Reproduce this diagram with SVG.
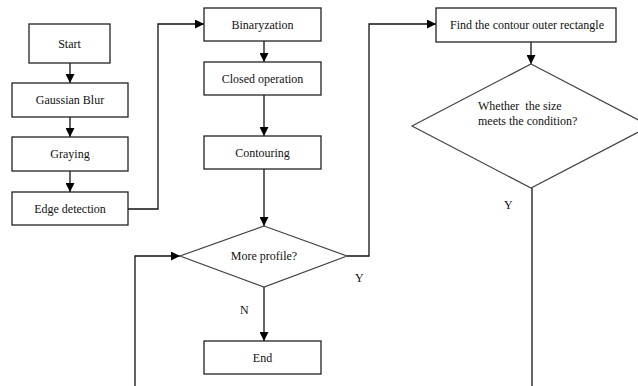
<svg xmlns="http://www.w3.org/2000/svg" width="638" height="386" viewBox="0 0 638 386" font-family="'Liberation Serif', 'Times New Roman', serif">
<defs>
<marker id="ah" viewBox="0 0 10 10" refX="10" refY="5" markerWidth="9" markerHeight="9" markerUnits="userSpaceOnUse" orient="auto">
<path d="M0,0 L10,5 L0,10 z" fill="#000"/>
</marker>
<style>
.box{fill:#fff;stroke:#222;stroke-width:1.3}
.dia{fill:#fff;stroke:#444;stroke-width:1.2}
text{font-family:'Liberation Serif','Times New Roman',serif;font-size:12px;fill:#111}
.t{text-anchor:middle}
.c{fill:none;stroke:#111;stroke-width:1.3}
</style>
</defs>
<rect width="638" height="386" fill="#fff"/>
<g id="connectors">
<line class="c" x1="70" y1="63" x2="70" y2="83" marker-end="url(#ah)"/>
<line class="c" x1="70" y1="117" x2="70" y2="137" marker-end="url(#ah)"/>
<line class="c" x1="70" y1="171" x2="70" y2="192" marker-end="url(#ah)"/>
<polyline class="c" points="128,209 158,209 158,24 204,24" marker-end="url(#ah)"/>
<line class="c" x1="264" y1="41" x2="264" y2="62" marker-end="url(#ah)"/>
<line class="c" x1="264" y1="95" x2="264" y2="136" marker-end="url(#ah)"/>
<line class="c" x1="264" y1="169" x2="264" y2="226" marker-end="url(#ah)"/>
<polyline class="c" points="347,256 369,256 369,24 436,24" marker-end="url(#ah)"/>
<line class="c" x1="264" y1="287" x2="264" y2="341" marker-end="url(#ah)"/>
<polyline class="c" points="135,386 135,256 180,256" marker-end="url(#ah)"/>
<line class="c" x1="531" y1="42" x2="531" y2="64" marker-end="url(#ah)"/>
<line class="c" x1="532" y1="188" x2="532" y2="386"/>
<text x="355" y="282">Y</text>
<text x="240" y="314">N</text>
<text x="504" y="209">Y</text>
</g>
<g id="start"><rect class="box" x="29" y="24" width="81" height="39"/><text class="t" x="69.5" y="47.5">Start</text></g>
<g id="gaussian"><rect class="box" x="12" y="83" width="116" height="34"/><text class="t" x="70" y="104">Gaussian Blur</text></g>
<g id="graying"><rect class="box" x="12" y="137" width="116" height="34"/><text class="t" x="70" y="158">Graying</text></g>
<g id="edge"><rect class="box" x="12" y="192" width="116" height="33"/><text class="t" x="70" y="212.5">Edge detection</text></g>
<g id="binaryzation"><rect class="box" x="204" y="8" width="117" height="33"/><text class="t" x="262.5" y="28.5">Binaryzation</text></g>
<g id="closed"><rect class="box" x="204" y="62" width="117" height="33"/><text class="t" x="262.5" y="83">Closed operation</text></g>
<g id="contouring"><rect class="box" x="204" y="136" width="117" height="33"/><text class="t" x="262.5" y="156.5">Contouring</text></g>
<g id="more"><polygon class="dia" points="264,226 347,256 264,287 180,256"/><text class="t" x="264" y="260">More profile?</text></g>
<g id="end"><rect class="box" x="204" y="341" width="117" height="33"/><text class="t" x="262.5" y="361.5">End</text></g>
<g id="find"><rect class="box" x="436" y="8" width="180" height="34"/><text class="t" x="527" y="28.5">Find the contour outer rectangle</text></g>
<g id="size"><polygon class="dia" points="531,64 650,126 531,188 412,126"/><text x="478" y="110" xml:space="preserve">Whether  the size</text><text x="478" y="125">meets the condition?</text></g>
</svg>
